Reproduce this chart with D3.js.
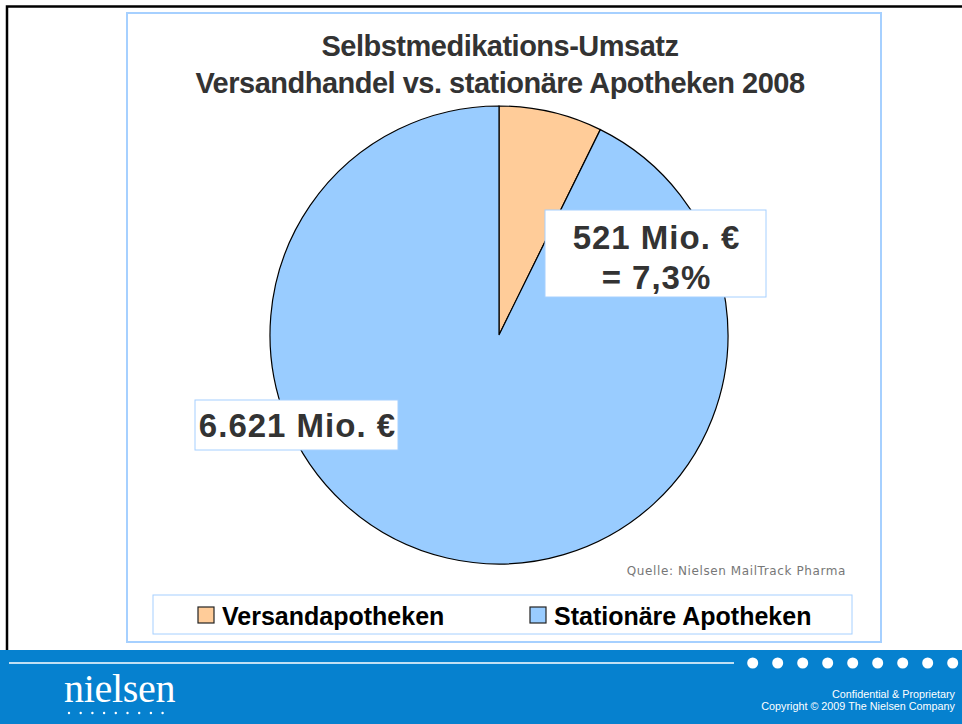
<!DOCTYPE html>
<html>
<head>
<meta charset="utf-8">
<script src="https://cdn.jsdelivr.net/npm/d3@7"></script>
<style>
  body { margin: 0; background: #fff; }
  svg { display: block; }
</style>
</head>
<body>
<div id="chart"></div>
<script>
const categories = ['Versandapotheken', 'Stationäre Apotheken'];
const values = [521, 6621];
const colors = ['#FFCC99', '#99CCFF'];
const titleLines = ['Selbstmedikations-Umsatz', 'Versandhandel vs. stationäre Apotheken 2008'];
const source = 'Quelle: Nielsen MailTrack Pharma';

const W = 962, H = 724;
const svg = d3.select('#chart').append('svg').attr('width', W).attr('height', H);
const font = 'Liberation Sans, Arial, sans-serif';

// slide frame
svg.append('path').attr('d', `M7,650 V6.5 H${W}`).attr('fill', 'none').attr('stroke', '#000').attr('stroke-width', 2.5);

// chart panel
svg.append('rect').attr('x', 127).attr('y', 13).attr('width', 754).attr('height', 629)
  .attr('fill', '#fff').attr('stroke', '#a6d0ff').attr('stroke-width', 2);

// title
svg.selectAll('.title').data(titleLines).join('text')
  .attr('x', 500).attr('y', (d, i) => 56 + i * 37)
  .attr('text-anchor', 'middle').attr('fill', '#333')
  .attr('font-family', font).attr('font-weight', 'bold').attr('font-size', '29px')
  .attr('letter-spacing', '-0.5px')
  .text(d => d);

// pie
const total = d3.sum(values);
const cx = 499, cy = 335, r = 229;
const pie = d3.pie().sort(null).value(d => d)(values);
const arc = d3.arc().innerRadius(0).outerRadius(r);
const g = svg.append('g').attr('transform', `translate(${cx},${cy})`);
g.selectAll('path').data(pie).join('path')
  .attr('d', arc)
  .attr('fill', (d, i) => colors[i])
  .attr('stroke', '#000').attr('stroke-width', 1.2);

// value labels
const fmt = d3.formatLocale({ decimal: ',', thousands: '.', grouping: [3], currency: ['', ' €'] });
const pct = fmt.format('.1%');
const num = fmt.format(',');
const labels = [
  { box: [545, 210, 221, 87], lines: [`${num(values[0])} Mio. €`, `= ${pct(values[0] / total)}`], y0: 249 },
  { box: [195, 400, 203, 50], lines: [`${num(values[1])} Mio. €`], y0: 437 }
];
labels.forEach(l => {
  svg.append('rect').attr('x', l.box[0]).attr('y', l.box[1]).attr('width', l.box[2]).attr('height', l.box[3])
    .attr('fill', '#fff').attr('stroke', '#a6d0ff').attr('stroke-width', 1);
  svg.selectAll(null).data(l.lines).join('text')
    .attr('x', l.box[0] + l.box[2] / 2 + 1).attr('y', (d, i) => l.y0 + i * 40)
    .attr('text-anchor', 'middle').attr('fill', '#333')
    .attr('font-family', font).attr('font-weight', 'bold').attr('font-size', '33px')
    .attr('letter-spacing', '1px')
    .text(d => d);
});

// source
svg.append('text').attr('x', 846).attr('y', 575).attr('text-anchor', 'end')
  .attr('fill', '#777').attr('font-family', 'DejaVu Sans, sans-serif').attr('font-size', '12px')
  .attr('letter-spacing', '0.6px')
  .text(source);

// legend
svg.append('rect').attr('x', 153).attr('y', 595).attr('width', 699).attr('height', 39)
  .attr('fill', '#fff').attr('stroke', '#a6d0ff').attr('stroke-width', 1);
const legX = [198, 530];
const leg = svg.selectAll('.leg').data(categories).join('g')
  .attr('transform', (d, i) => `translate(${legX[i]},607)`);
leg.append('rect').attr('width', 16).attr('height', 16)
  .attr('fill', (d, i) => colors[i]).attr('stroke', '#222').attr('stroke-width', 1.2);
leg.append('text').attr('x', 24).attr('y', 18)
  .attr('fill', '#000').attr('font-family', font).attr('font-weight', 'bold').attr('font-size', '25px')
  .text(d => d);

// footer
svg.append('rect').attr('x', 0).attr('y', 650).attr('width', W).attr('height', H - 650).attr('fill', '#0681cf');
svg.append('line').attr('x1', 9).attr('x2', 734).attr('y1', 663).attr('y2', 663)
  .attr('stroke', '#fff').attr('stroke-width', 1.5);
svg.selectAll('.dot').data(d3.range(9)).join('circle')
  .attr('cx', d => 752.7 + d * 25).attr('cy', 663).attr('r', 5.5).attr('fill', '#fff');
svg.append('text').attr('x', 64).attr('y', 702)
  .attr('fill', '#fff').attr('font-family', 'Liberation Serif, serif').attr('font-size', '40px')
  .attr('letter-spacing', '-0.3px')
  .text('nielsen');
svg.selectAll('.ldot').data(d3.range(9)).join('circle')
  .attr('cx', d => 69 + d * 11.7).attr('cy', 713).attr('r', 1.2).attr('fill', '#fff');
svg.selectAll('.foot').data(['Confidential & Proprietary', 'Copyright © 2009 The Nielsen Company']).join('text')
  .attr('x', 955).attr('y', (d, i) => 698 + i * 12).attr('text-anchor', 'end')
  .attr('fill', '#fff').attr('font-family', font).attr('font-size', '10.8px')
  .text(d => d);
</script>
</body>
</html>
